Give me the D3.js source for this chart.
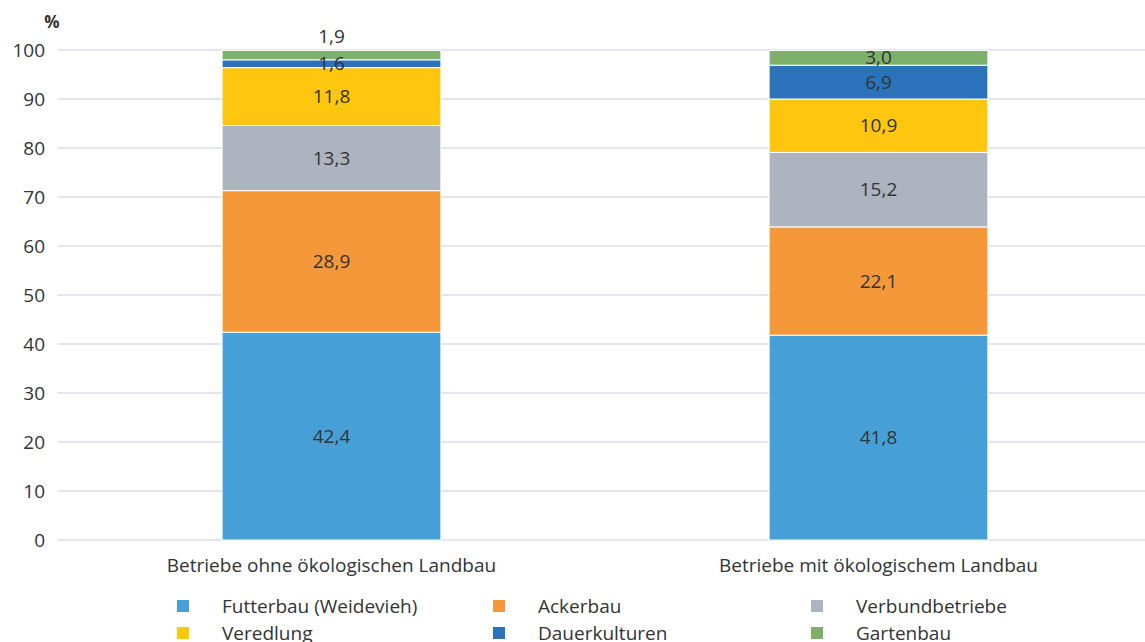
<!DOCTYPE html>
<html>
<head>
<meta charset="utf-8">
<script src="https://cdn.jsdelivr.net/npm/d3@7"></script>
<style>
  body { margin: 0; background: #fff; }
  svg { font-family: "Open Sans", "Noto Sans", sans-serif; }
</style>
</head>
<body>
<svg width="1145" height="642"></svg>
<script>
var categories = ["Betriebe ohne ökologischen Landbau", "Betriebe mit ökologischem Landbau"];
var seriesNames = ["Futterbau (Weidevieh)", "Ackerbau", "Verbundbetriebe", "Veredlung", "Dauerkulturen", "Gartenbau"];
var seriesColors = ["#46a0d7", "#f49839", "#aeb4bf", "#fec60f", "#2a73ba", "#7db16b"];
var futterbau = [42.4, 41.8];
var ackerbau = [28.9, 22.1];
var verbund = [13.3, 15.2];
var veredlung = [11.8, 10.9];
var dauerkulturen = [1.6, 6.9];
var gartenbau = [1.9, 3.0];
var yTicks = [0, 10, 20, 30, 40, 50, 60, 70, 80, 90, 100];

var svg = d3.select("svg");
var values = [futterbau, ackerbau, verbund, veredlung, dauerkulturen, gartenbau];

var rows = categories.map(function(c, i) {
    var r = { cat: c };
    seriesNames.forEach(function(s, j) { r[s] = values[j][i]; });
    return r;
});
var stacked = d3.stack().keys(seriesNames)(rows);

var x = d3.scaleBand().domain(categories).range([58, 1152]).paddingInner(0.6).paddingOuter(0.3);
var y = d3.scaleLinear().domain([0, 100]).range([540, 50]);

// grid
svg.append("g").selectAll("line").data(yTicks).enter().append("line")
    .attr("x1", 58).attr("x2", 1145)
    .attr("y1", function(d) { return y(d); }).attr("y2", function(d) { return y(d); })
    .attr("stroke", "#e4e4f0").attr("stroke-width", 2);

var yAxis = svg.append("g").attr("transform", "translate(45,0)")
    .call(d3.axisLeft(y).tickValues(yTicks).tickSize(0).tickPadding(0));
yAxis.select(".domain").remove();
yAxis.selectAll("text").attr("font-size", 19).attr("fill", "#333").attr("font-family", "Open Sans");

svg.append("text").attr("x", 52).attr("y", 28).attr("text-anchor", "middle")
    .attr("font-size", 17).attr("font-weight", "bold").attr("fill", "#333").text("%");

// bars
var layers = svg.append("g").selectAll("g").data(stacked).enter().append("g")
    .attr("fill", function(d, i) { return seriesColors[i]; });
layers.selectAll("rect").data(function(d) { return d; }).enter().append("rect")
    .attr("x", function(d) { return x(d.data.cat); })
    .attr("width", x.bandwidth())
    .attr("y", function(d) { return y(d[1]); })
    .attr("height", function(d) { return y(d[0]) - y(d[1]); })
    .attr("stroke", "#fff").attr("stroke-width", 1);

// labels
var fmt = function(v) { return d3.format(".1f")(v).replace(".", ","); };
svg.append("g").selectAll("g").data(stacked).enter().append("g")
    .selectAll("text").data(function(d) { return d.map(function(p) { return { p: p, key: d.key }; }); })
    .enter().append("text")
    .attr("x", function(d) { return x(d.p.data.cat) + x.bandwidth() / 2; })
    .attr("y", function(d) {
        var h = y(d.p[0]) - y(d.p[1]);
        if (d.key === "Gartenbau" && h < 12) return y(d.p[1]) - 14;
        return (y(d.p[0]) + y(d.p[1])) / 2;
    })
    .attr("dy", "0.35em")
    .attr("text-anchor", "middle")
    .attr("font-size", 19).attr("fill", "#333")
    .text(function(d) { return fmt(d.p.data[d.key]); });

// category labels
svg.append("g").selectAll("text").data(categories).enter().append("text")
    .attr("x", function(d) { return x(d) + x.bandwidth() / 2; })
    .attr("y", 572).attr("text-anchor", "middle")
    .attr("font-size", 19).attr("fill", "#333")
    .text(function(d) { return d; });

// legend
var legX = [177, 493, 811];
var legend = svg.append("g").selectAll("g").data(seriesNames).enter().append("g")
    .attr("transform", function(d, i) { return "translate(" + legX[i % 3] + "," + (606 + Math.floor(i / 3) * 27) + ")"; });
legend.append("rect").attr("x", 0).attr("y", -6).attr("width", 12).attr("height", 12)
    .attr("fill", function(d, i) { return seriesColors[i]; });
legend.append("text").attr("x", 45).attr("dy", "0.35em")
    .attr("font-size", 19).attr("fill", "#333")
    .text(function(d) { return d; });
</script>
</body>
</html>
